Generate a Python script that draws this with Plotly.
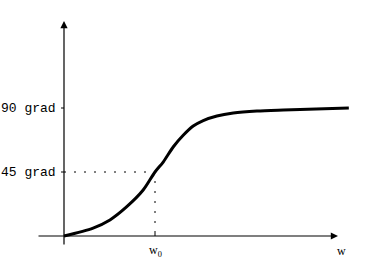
import plotly.graph_objects as go

# Data (w in units of w0, phase in degrees)
w_vals = [0.0, 0.32, 0.505, 0.69, 0.87, 1.0, 1.09, 1.20, 1.31, 1.42, 1.53, 1.68, 1.86, 2.12, 2.41, 2.77, 3.13]
phase_vals = [0.0, 5.6, 11.3, 20.6, 32.3, 45.0, 52.0, 62.6, 70.8, 77.3, 81.2, 84.4, 86.5, 87.9, 88.6, 89.3, 90.0]

y_tick_vals = [45, 90]
y_tick_labels = ["45 grad", "90 grad"]
x_tick_vals = [1.0]
x_tick_labels = ["w<sub>0</sub>"]
x_axis_label = "w"
guide_w = 1.0
guide_phase = 45

W, H = 366, 275
ox, oy = 64, 236          # origin pixel
px_per_w = 91.0
px_per_deg = 128 / 90.0

def dx(px):  # pixel length -> data length (x)
    return px / px_per_w

def dy(px):
    return px / px_per_deg

fig = go.Figure()

# dotted guide lines
fig.add_trace(go.Scatter(
    x=[0, guide_w, guide_w], y=[guide_phase, guide_phase, 0],
    mode="lines", line=dict(color="black", width=1, dash="2px,8px"),
    hoverinfo="skip", showlegend=False))

# curve
fig.add_trace(go.Scatter(
    x=w_vals, y=phase_vals, mode="lines",
    line=dict(color="black", width=3, shape="spline", smoothing=0.8),
    showlegend=False))

annotations = []
shapes = []

# axes with arrows
annotations.append(dict(x=dx(338 - ox), y=0, ax=dx(37 - ox), ay=0, axref="x", ayref="y",
                        xref="x", yref="y", text="", showarrow=True,
                        arrowhead=2, arrowsize=1.2, arrowwidth=1.2, arrowcolor="black"))
annotations.append(dict(x=0, y=dy(oy - 21), ax=0, ay=dy(oy - 246), axref="x", ayref="y",
                        xref="x", yref="y", text="", showarrow=True,
                        arrowhead=2, arrowsize=1.2, arrowwidth=1.2, arrowcolor="black"))

# y ticks + labels
for v, lab in zip(y_tick_vals, y_tick_labels):
    shapes.append(dict(type="line", xref="x", yref="y", x0=-dx(3), x1=0, y0=v, y1=v,
                       line=dict(color="black", width=1)))
    annotations.append(dict(x=-dx(6), y=v, xref="x", yref="y", text=lab, showarrow=False,
                            xanchor="right", yanchor="middle",
                            font=dict(family="Liberation Mono", size=13, color="black")))

# x ticks + labels
for v, lab in zip(x_tick_vals, x_tick_labels):
    shapes.append(dict(type="line", xref="x", yref="y", x0=v, x1=v, y0=0, y1=dy(3),
                       line=dict(color="black", width=1)))
    annotations.append(dict(x=v, y=-dy(5), xref="x", yref="y", text=lab, showarrow=False,
                            xanchor="center", yanchor="top",
                            font=dict(family="Liberation Serif", size=12, color="black")))

annotations.append(dict(x=dx(341 - ox), y=-dy(6), xref="x", yref="y", text=x_axis_label,
                        showarrow=False, xanchor="center", yanchor="top",
                        font=dict(family="Liberation Serif", size=12, color="black")))

fig.update_layout(
    width=W, height=H, margin=dict(l=0, r=0, t=0, b=0),
    paper_bgcolor="white", plot_bgcolor="white",
    xaxis=dict(range=[dx(-ox), dx(W - ox)], visible=False, fixedrange=True),
    yaxis=dict(range=[dy(oy - H), dy(oy)], visible=False, fixedrange=True),
    annotations=annotations, shapes=shapes, showlegend=False,
)

fig.write_html("out.html")
